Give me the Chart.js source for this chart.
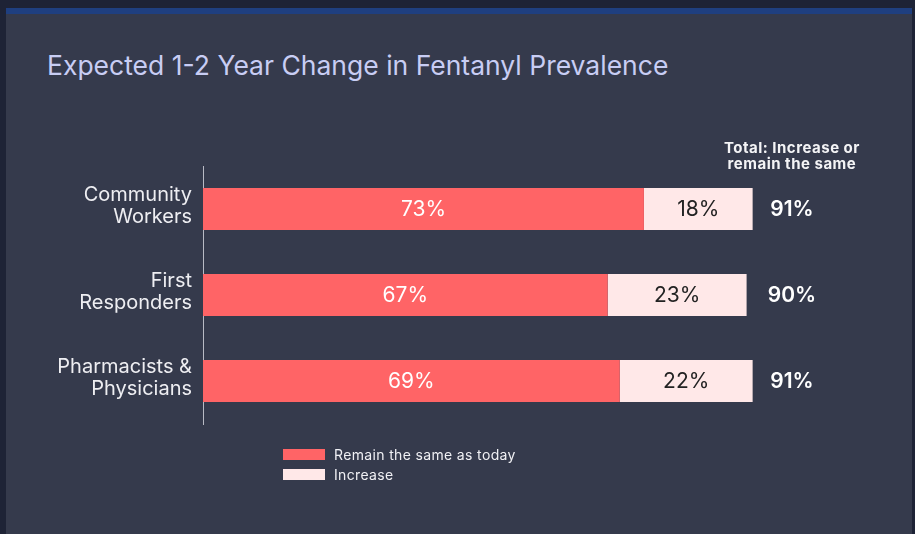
<!DOCTYPE html>
<html>
<head>
<meta charset="utf-8">
<script src="https://cdn.jsdelivr.net/npm/chart.js@4"></script>
<style>
  html, body { margin: 0; padding: 0; }
  body { width: 915px; height: 534px; background: #1e2336; position: relative; overflow: hidden; font-family: Inter, "Noto Sans", sans-serif; }
  #panel { position: absolute; left: 6px; top: 8px; width: 906px; height: 526px; background: #353a4c; border-top: 6px solid #1f3f80; box-sizing: border-box; }
  #title { position: absolute; left: 47px; top: 49px; font-size: 26.5px; color: #c8cdf4; font-weight: 400; white-space: nowrap; }
  #wrap { position: absolute; left: 0; top: 0; width: 915px; height: 534px; }
  #legend { position: absolute; left: 283px; top: 444px; color: #f0f0f4; font-size: 14px; letter-spacing: 0.35px; }
  #legend div { display: flex; align-items: center; height: 20px; }
  #legend span.sw { width: 42px; height: 11px; margin-right: 9px; display: inline-block; }
</style>
</head>
<body>
<div id="panel"></div>
<div id="title">Expected 1-2 Year Change in Fentanyl Prevalence</div>
<div id="wrap"><canvas id="c" width="915" height="534"></canvas></div>
<div id="legend"></div>
<script>
const categories = [["Community", "Workers"], ["First", "Responders"], ["Pharmacists &", "Physicians"]];
const remainSame = [73, 67, 69];
const increase = [18, 23, 22];
const totals = [91, 90, 91];
const seriesNames = ["Remain the same as today", "Increase"];
const seriesColors = ["#ff6466", "#ffe8e8"];
const labelColors = ["#ffffff", "#222222"];

const legendEl = document.getElementById("legend");
seriesNames.forEach((name, i) => {
  const row = document.createElement("div");
  row.innerHTML = `<span class="sw" style="background:${seriesColors[i]}"></span>${name}`;
  legendEl.appendChild(row);
});

// draws values inside bars, totals column and its header
const valueLabels = {
  id: "valueLabels",
  afterDatasetsDraw(chart) {
    const ctx = chart.ctx;
    ctx.save();
    ctx.textBaseline = "middle";
    ctx.textAlign = "center";
    ctx.font = "21px Inter, 'Noto Sans', sans-serif";
    chart.data.datasets.forEach((ds, di) => {
      const meta = chart.getDatasetMeta(di);
      meta.data.forEach((bar, i) => {
        ctx.fillStyle = labelColors[di];
        const mid = (bar.x + bar.base) / 2;
        ctx.fillText(ds.data[i] + "%", mid, bar.y + 1);
      });
    });
    const xs = chart.scales.x;
    const ys = chart.scales.y;
    const tx = xs.getPixelForValue(97.5);
    ctx.fillStyle = "#ffffff";
    ctx.font = "600 21px Inter, 'Noto Sans', sans-serif";
    totals.forEach((t, i) => {
      ctx.fillText(t + "%", tx, ys.getPixelForValue(i) + 1);
    });
    ctx.font = "bold 15px Inter, 'Noto Sans', sans-serif";
    ctx.letterSpacing = "0.5px";
    ctx.fillStyle = "#f4f4f6";
    ctx.fillText("Total: Increase or", tx, 148);
    ctx.fillText("remain the same", tx, 164);
    ctx.restore();
  }
};

new Chart(document.getElementById("c"), {
  type: "bar",
  data: {
    labels: categories,
    datasets: [
      { label: seriesNames[0], data: remainSame, backgroundColor: seriesColors[0], barPercentage: 0.976, categoryPercentage: 0.5 },
      { label: seriesNames[1], data: increase, backgroundColor: seriesColors[1], barPercentage: 0.976, categoryPercentage: 0.5 }
    ]
  },
  options: {
    indexAxis: "y",
    responsive: false,
    animation: false,
    layout: { padding: { top: 166, bottom: 110, right: 108, left: 0 } },
    scales: {
      x: { stacked: true, min: 0, max: 100, display: false },
      y: {
        stacked: true,
        grid: { display: false, drawTicks: false },
        border: { display: true, color: "#b8bac4", width: 1 },
        ticks: { color: "#eeeef2", padding: 11, labelOffset: -3, font: { size: 20, family: "Inter, 'Noto Sans', sans-serif", lineHeight: 1.1 } },
        afterFit(scale) { scale.width = 203; }
      }
    },
    plugins: {
      legend: { display: false },
      tooltip: { enabled: false }
    }
  },
  plugins: [valueLabels]
});
</script>
</body>
</html>
